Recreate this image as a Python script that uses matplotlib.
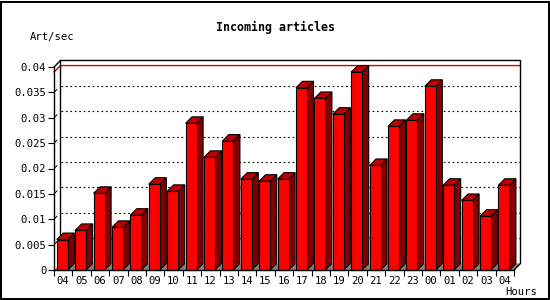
import matplotlib
matplotlib.use("Agg")
import matplotlib.pyplot as plt
from matplotlib.patches import Polygon, Rectangle

# Stunden und Werte (Art/sec)
hours = ["04", "05", "06", "07", "08", "09", "10", "11", "12", "13", "14", "15", "16",
         "17", "18", "19", "20", "21", "22", "23", "00", "01", "02", "03", "04"]
rates = [0.0060, 0.0078, 0.0151, 0.0084, 0.0108, 0.0169, 0.0155, 0.0289, 0.0222,
         0.0254, 0.0179, 0.0175, 0.0179, 0.0359, 0.0338, 0.0307, 0.0390, 0.0206,
         0.0283, 0.0295, 0.0362, 0.0167, 0.0137, 0.0106, 0.0167]
yticks = [0, 0.005, 0.01, 0.015, 0.02, 0.025, 0.03, 0.035, 0.04]
ytick_labels = ["0", "0.005", "0.01", "0.015", "0.02", "0.025", "0.03", "0.035", "0.04"]

W, H = 550, 300
fig = plt.figure(figsize=(W / 100, H / 100), dpi=100)
fig.patch.set_facecolor("white")

# Plotflaeche (vordere Ebene) in Pixeln
left, right, bottom, top = 54, 514, 270, 67
ax = fig.add_axes([left / W, (H - bottom) / H, (right - left) / W, (bottom - top) / H])
ax.set_facecolor("none")
n = len(rates)
ymax = 0.04
ax.set_xlim(0, n)
ax.set_ylim(0, ymax)
for s in ax.spines.values():
    s.set_visible(False)

# 3D-Tiefe in Datenkoordinaten
depth_px = 6.5
dx = depth_px * n / (right - left)
dy = depth_px * ymax / (bottom - top)

font = "DejaVu Sans Mono"
fs = 7.6

# Boden
ax.add_patch(Polygon([(0, 0), (n, 0), (n + dx, dy), (dx, dy)], closed=True,
                     facecolor="#808080", edgecolor="none", zorder=1, clip_on=False))

# Gitterlinien auf der Rueckwand
for y in yticks[1:-1]:
    ax.plot([dx, n + dx], [y + dy, y + dy], color="black", lw=0.8,
            linestyle=(0, (1.5, 2.5)), zorder=1.5, clip_on=False)
    # kleine Striche auf der linken Wand
    ax.plot([0.15 * dx, 0.45 * dx], [y + 0.15 * dy, y + 0.45 * dy], color="black",
            lw=0.7, zorder=1.5, clip_on=False)

# Maximum-Linie (rot)
vmax = max(rates)
ax.plot([0, dx, n + dx], [vmax, vmax + dy, vmax + dy], color="#e00000", lw=1.0,
        zorder=1.6, clip_on=False)

# Rahmen der Rueckwand
ax.plot([dx, dx, n + dx, n + dx, n], [dy, ymax + dy, ymax + dy, dy, 0],
        color="black", lw=1.0, zorder=1.7, clip_on=False)
ax.plot([0, dx], [ymax, ymax + dy], color="black", lw=1.0, zorder=1.7, clip_on=False)

# Balken
bw = 0.6
xs = [i + 0.5 for i in range(n)]
for x, v in zip(xs, rates):
    xl, xr = x - bw / 2 - 0.05, x + bw / 2 - 0.05
    ax.add_patch(Polygon([(xr, 0), (xr + dx, dy), (xr + dx, v + dy), (xr, v)], closed=True,
                         facecolor="#800000", edgecolor="black", lw=0.8, zorder=3,
                         clip_on=False))
    ax.add_patch(Polygon([(xl, v), (xr, v), (xr + dx, v + dy), (xl + dx, v + dy)], closed=True,
                         facecolor="#c00000", edgecolor="black", lw=0.8, zorder=3,
                         clip_on=False))
    ax.add_patch(Rectangle((xl, 0), xr - xl, v, facecolor="#ff0000", edgecolor="black",
                           lw=0.8, zorder=4, clip_on=False))

# Achsen vorne
ax.plot([0, 0], [0, ymax], color="black", lw=1.0, zorder=5, clip_on=False)
ax.plot([0, n], [0, 0], color="black", lw=1.0, zorder=5, clip_on=False)

ax.set_yticks(yticks)
ax.set_yticklabels(ytick_labels, fontfamily=font, fontsize=fs)
ax.tick_params(axis="y", direction="out", length=4, width=0.8, pad=1.5)
ax.set_xticks(range(n + 1))
ax.set_xticklabels([])
ax.set_xticks(xs, minor=True)
ax.set_xticklabels(hours, minor=True, fontfamily=font, fontsize=fs)
ax.tick_params(axis="x", which="major", direction="out", length=4, width=0.8)
ax.tick_params(axis="x", which="minor", length=0, pad=4)

fig.text(0.5, 1 - 27 / H, "Incoming articles", ha="center", va="center",
         fontfamily=font, fontsize=8.4, fontweight="bold")
fig.text(30 / W, 1 - 37 / H, "Art/sec", ha="left", va="center", fontfamily=font, fontsize=fs)
fig.text(505 / W, 1 - 292 / H, "Hours", ha="left", va="center", fontfamily=font, fontsize=fs)

fig.patches.append(Rectangle((1 / W, 1 / H), (W - 2.5) / W, (H - 2.5) / H, fill=False,
                             edgecolor="black", lw=1.44, transform=fig.transFigure))

plt.savefig("out.png", dpi=100)
print("gespeichert als out.png")
